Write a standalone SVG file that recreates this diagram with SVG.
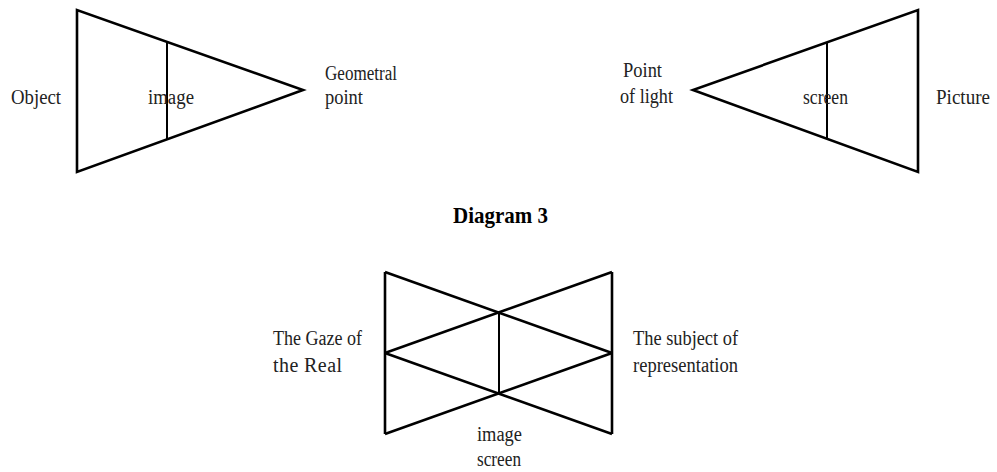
<svg xmlns="http://www.w3.org/2000/svg" width="997" height="472" viewBox="0 0 997 472">
  <style>
    .edge { fill: none; stroke: #000; stroke-width: 2.6; stroke-linejoin: miter; }
    .inner { fill: none; stroke: #000; stroke-width: 2; }
    .lbl { font-family: "Liberation Serif", "Times New Roman", serif; font-size: 20px; fill: #222; }
    .title { font-family: "Liberation Serif", "Times New Roman", serif; font-size: 23px; font-weight: bold; fill: #000; }
  </style>
  <rect width="997" height="472" fill="#fff"/>

  <!-- Geometral triangle: object, image, geometral point -->
  <g id="geometral">
    <polygon class="edge" points="77,10 77,172 303,90"/>
    <line class="inner" x1="167" y1="42" x2="167" y2="139"/>
    <text class="lbl" x="11" y="104" textLength="50" lengthAdjust="spacingAndGlyphs">Object</text>
    <text class="lbl" x="148" y="104" textLength="46" lengthAdjust="spacingAndGlyphs">image</text>
    <text class="lbl" x="325" y="80" textLength="72" lengthAdjust="spacingAndGlyphs">Geometral</text>
    <text class="lbl" x="325" y="104" textLength="38" lengthAdjust="spacingAndGlyphs">point</text>
  </g>

  <!-- Light triangle: point of light, screen, picture -->
  <g id="light">
    <polygon class="edge" points="918,10 918,172 693,90"/>
    <line class="inner" x1="827" y1="43" x2="827" y2="138"/>
    <text class="lbl" x="623" y="77" textLength="39" lengthAdjust="spacingAndGlyphs">Point</text>
    <text class="lbl" x="620" y="103" textLength="53" lengthAdjust="spacingAndGlyphs">of light</text>
    <text class="lbl" x="803" y="104" textLength="45" lengthAdjust="spacingAndGlyphs">screen</text>
    <text class="lbl" x="936" y="104" textLength="54" lengthAdjust="spacingAndGlyphs">Picture</text>
  </g>

  <!-- Diagram 3: the two triangles overlapped -->
  <g id="diagram3">
    <text class="title" x="453" y="223" textLength="95" lengthAdjust="spacingAndGlyphs">Diagram 3</text>
    <line class="edge" x1="385" y1="272" x2="385" y2="434"/>
    <line class="edge" x1="612" y1="272" x2="612" y2="434"/>
    <line class="edge" x1="385" y1="272" x2="612" y2="353"/>
    <line class="edge" x1="612" y1="272" x2="385" y2="353"/>
    <line class="edge" x1="385" y1="353" x2="612" y2="434"/>
    <line class="edge" x1="612" y1="353" x2="385" y2="434"/>
    <line class="inner" x1="499" y1="313" x2="499" y2="393"/>
    <text class="lbl" x="273" y="345" textLength="89" lengthAdjust="spacingAndGlyphs">The Gaze of</text>
    <text class="lbl" x="273" y="372" textLength="69" lengthAdjust="spacing">the Real</text>
    <text class="lbl" x="633" y="345" textLength="105" lengthAdjust="spacingAndGlyphs">The subject of</text>
    <text class="lbl" x="633" y="372" textLength="105" lengthAdjust="spacingAndGlyphs">representation</text>
    <text class="lbl" x="477" y="441" textLength="45" lengthAdjust="spacingAndGlyphs">image</text>
    <text class="lbl" x="477" y="466" textLength="44" lengthAdjust="spacingAndGlyphs">screen</text>
  </g>
</svg>
